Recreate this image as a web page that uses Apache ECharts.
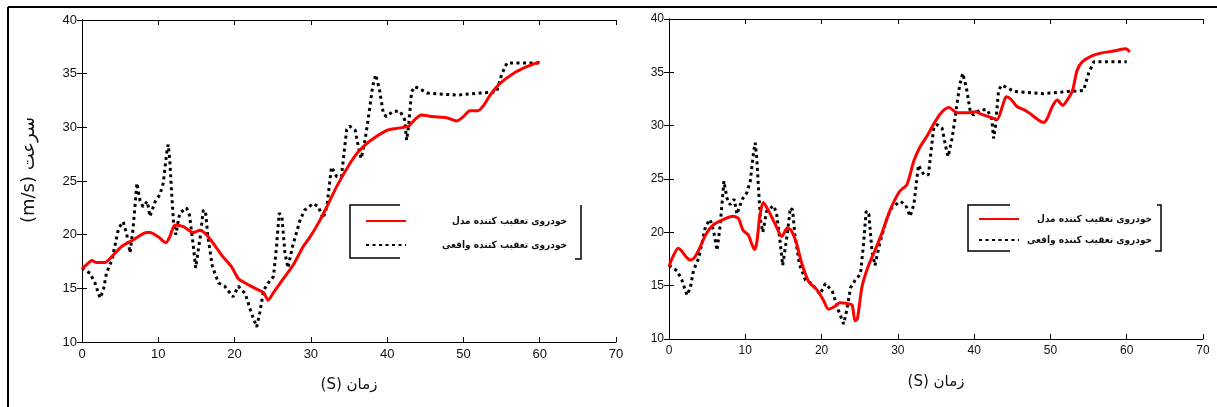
<!DOCTYPE html>
<html>
<head>
<meta charset="utf-8">
<script src="https://cdn.jsdelivr.net/npm/echarts@6/dist/echarts.min.js"></script>
<style>
  html, body { margin: 0; padding: 0; background: #fff; }
  #chart { width: 1217px; height: 407px; }
</style>
</head>
<body>
<div id="chart"></div>
<script>
// measured vehicle speed (same in both panels)
var actualTime = [0, 1.05, 1.7, 2.36, 2.8, 3.2, 3.9, 4.3, 4.8, 5.4, 5.85, 6.3, 6.7, 7.2, 7.6, 8.0, 8.56, 8.9, 9.6, 10.2, 10.65, 11.1, 11.3, 11.5, 11.75, 12.0, 12.3, 12.8, 13.7, 14.1, 14.6, 14.9, 15.5, 15.9, 16.2, 16.5, 17.1, 17.9, 18.7, 19.8, 20.5, 21.4, 22.2, 22.9, 23.3, 23.8, 24.4, 25.1, 25.5, 25.85, 26.2, 26.6, 27.0, 27.6, 28.6, 29.2, 30.3, 31.0, 31.6, 32.1, 32.7, 33.4, 34.0, 34.7, 35.1, 35.8, 36.4, 36.6, 37.1, 37.5, 38.1, 38.5, 39.0, 39.5, 39.9, 40.8, 41.7, 42.3, 42.55, 42.8, 43.2, 43.6, 44.5, 45.2, 49.1, 52.2, 54.35, 55.0, 55.7, 57.4, 60.0];
var actualSpeed = [16.9, 16.4, 15.5, 14.1, 14.8, 16.4, 17.6, 18.9, 20.6, 21.2, 20.1, 18.3, 20.6, 24.8, 23.2, 22.6, 23.1, 21.7, 23.1, 23.7, 24.8, 27.6, 28.4, 27.0, 23.9, 21.1, 20.0, 22.0, 22.5, 21.8, 18.9, 16.9, 19.8, 22.3, 22.1, 19.8, 17.0, 15.5, 15.2, 14.2, 15.2, 14.5, 12.7, 11.4, 12.7, 14.8, 15.5, 16.1, 18.9, 22.0, 21.7, 18.3, 16.9, 18.9, 21.4, 22.3, 22.9, 22.6, 21.5, 22.6, 26.3, 25.4, 25.4, 29.8, 30.1, 29.75, 27.6, 27.1, 28.8, 30.7, 33.8, 34.9, 33.5, 31.3, 31.0, 31.5, 31.5, 30.7, 28.8, 30.0, 33.3, 33.8, 33.5, 33.2, 33.0, 33.2, 33.3, 34.9, 36.0, 36.0, 36.0];

// model follower, left panel
var modelATime = [0, 0.6, 1.3, 1.9, 3.0, 3.9, 5.2, 6.7, 8.5, 8.9, 10.0, 11.0, 11.5, 12.2, 13.3, 14.6, 15.5, 16.3, 17.2, 18.3, 19.6, 20.5, 21.4, 22.7, 23.8, 24.4, 25.1, 26.4, 27.7, 29.0, 29.9, 31.0, 32.1, 33.4, 35.1, 36.2, 37.7, 39.9, 41.2, 42.8, 43.6, 44.5, 46.0, 47.8, 49.1, 50.0, 50.85, 51.9, 52.6, 53.5, 54.8, 56.5, 58.3, 60.0];
var modelASpeed = [16.8, 17.2, 17.6, 17.4, 17.4, 17.95, 18.9, 19.5, 20.2, 20.2, 19.8, 19.25, 19.8, 20.9, 20.75, 20.2, 20.4, 20.0, 19.2, 18.1, 17.0, 15.9, 15.5, 15.0, 14.6, 13.9, 14.6, 15.9, 17.2, 18.9, 19.8, 21.1, 22.6, 24.5, 26.6, 27.7, 28.7, 29.7, 29.9, 30.1, 30.7, 31.15, 31.0, 30.9, 30.6, 31.0, 31.55, 31.55, 32.0, 33.0, 34.1, 35.0, 35.65, 36.1];

// model follower, right panel
var modelBTime = [0, 0.5, 1.2, 1.6, 2.3, 2.8, 3.4, 4.0, 4.9, 5.8, 7.1, 8.4, 9.1, 9.7, 10.4, 10.8, 11.2, 11.5, 11.9, 12.35, 13.0, 13.9, 14.8, 15.5, 16.0, 16.7, 17.4, 18.3, 19.4, 20.2, 20.9, 21.6, 22.4, 23.5, 24.0, 24.4, 24.7, 25.3, 26.1, 27.0, 27.9, 29.0, 30.2, 31.2, 32.1, 32.9, 33.8, 34.7, 35.6, 36.7, 37.8, 39.1, 40.2, 40.8, 41.7, 43.0, 43.7, 44.2, 44.8, 45.6, 46.5, 47.2, 48.3, 49.1, 49.6, 50.25, 50.9, 51.6, 52.2, 52.9, 53.5, 54.2, 55.3, 56.6, 58.3, 59.9, 60.4];
var modelBSpeed = [16.8, 17.7, 18.5, 18.3, 17.65, 17.4, 17.7, 18.5, 19.9, 20.7, 21.2, 21.5, 21.3, 20.2, 19.75, 19.0, 18.4, 19.0, 21.5, 22.8, 22.1, 20.8, 19.6, 20.4, 20.2, 19.0, 17.1, 15.4, 14.6, 13.7, 12.8, 13.0, 13.4, 13.3, 13.2, 11.7, 11.9, 14.9, 16.8, 18.3, 19.9, 22.1, 23.8, 24.5, 26.7, 28.0, 29.0, 30.15, 31.15, 31.7, 31.2, 31.2, 31.3, 31.1, 30.9, 30.6, 31.8, 32.7, 32.5, 31.8, 31.5, 31.2, 30.6, 30.3, 30.7, 31.8, 32.4, 31.9, 32.4, 33.3, 35.2, 36.0, 36.5, 36.8, 37.0, 37.2, 36.9];

var nameModel = 'خودروی تعقیب کننده مدل';
var nameActual = 'خودروی تعقیب کننده واقعی';

function pairs(t, v) {
    return t.map(function (x, i) { return [x, v[i]]; });
}

var chart = echarts.init(document.getElementById('chart'));

var tickFont = { color: '#111', fontFamily: 'Liberation Sans, Arial, sans-serif' };

function xAxes(gridIndex, size) {
    return [{
        gridIndex: gridIndex, type: 'value', min: 0, max: 70, interval: 10,
        name: '(S) زمان', nameLocation: 'middle', nameGap: 36,
        nameTextStyle: { fontSize: 15, color: '#111', fontFamily: 'DejaVu Sans' },
        axisLine: { lineStyle: { color: '#000', width: 1 } },
        axisTick: { inside: true, length: 5, lineStyle: { color: '#000' } },
        axisLabel: Object.assign({ fontSize: size, margin: 6 }, tickFont),
        splitLine: { show: false }
    }, {
        gridIndex: gridIndex, type: 'value', position: 'top', min: 0, max: 70, interval: 10,
        axisLine: { lineStyle: { color: '#000', width: 1 } },
        axisTick: { inside: true, length: 5, lineStyle: { color: '#000' } },
        axisLabel: { show: false }, splitLine: { show: false }
    }];
}

function yAxes(gridIndex, size, name) {
    return [{
        gridIndex: gridIndex, type: 'value', min: 10, max: 40, interval: 5,
        name: name, nameLocation: 'middle', nameGap: 44,
        nameTextStyle: { fontSize: 18, color: '#111', fontFamily: 'DejaVu Sans', padding: [0, 0, 0, 22] },
        axisLine: { lineStyle: { color: '#000', width: 1 } },
        axisTick: { inside: true, length: 5, lineStyle: { color: '#000' } },
        axisLabel: Object.assign({ fontSize: size, margin: 5 }, tickFont),
        splitLine: { show: false }
    }, {
        gridIndex: gridIndex, type: 'value', position: 'right', min: 10, max: 40, interval: 5,
        axisLine: { lineStyle: { color: '#000', width: 1 } },
        axisTick: { inside: true, length: 5, lineStyle: { color: '#000' } },
        axisLabel: { show: false }, splitLine: { show: false }
    }];
}

function modelSeries(idx, data) {
    return {
        name: nameModel, type: 'line', xAxisIndex: idx * 2, yAxisIndex: idx * 2,
        data: data, symbol: 'none', smooth: 0.25,
        lineStyle: { color: '#ff0000', width: 3 }, itemStyle: { color: '#ff0000' },
        z: 3
    };
}

function actualSeries(idx) {
    return {
        name: nameActual, type: 'line', xAxisIndex: idx * 2, yAxisIndex: idx * 2,
        data: pairs(actualTime, actualSpeed), symbol: 'none',
        lineStyle: { color: '#000', width: 3, type: [3, 3.5], cap: 'butt' }, itemStyle: { color: '#000' },
        z: 2
    };
}

function legendAt(left, top, textWidth, gap) {
    return {
        left: left, top: top, orient: 'vertical', itemWidth: 40, itemHeight: 10, itemGap: gap,
        data: [nameModel, nameActual], selectedMode: false,
        itemStyle: { opacity: 0 },
        formatter: function (n) { return '{t|' + n + '}'; },
        textStyle: {
            rich: { t: { width: textWidth, align: 'right', fontSize: 10, fontWeight: 'bold', color: '#111', fontFamily: 'DejaVu Sans Condensed' } }
        }
    };
}

var option = {
    animation: false,
    grid: [
        { left: 82, right: 601, top: 20, bottom: 65 },
        { left: 669, right: 14, top: 19, bottom: 68 }
    ],
    xAxis: xAxes(0, 13).concat(xAxes(1, 12)),
    yAxis: yAxes(0, 13, '(m/s) سرعت').concat(yAxes(1, 12, '')),
    legend: [legendAt(360, 211, 156, 14), legendAt(973, 209, 128, 11)],
    series: [
        actualSeries(0), modelSeries(0, pairs(modelATime, modelASpeed)),
        actualSeries(1), modelSeries(1, pairs(modelBTime, modelBSpeed))
    ],
    graphic: [
        // outer frame pieces
        { type: 'line', shape: { x1: 8, y1: 7, x2: 1217, y2: 7 }, style: { stroke: '#000', lineWidth: 2 } },
        { type: 'line', shape: { x1: 8, y1: 7, x2: 8, y2: 407 }, style: { stroke: '#000', lineWidth: 2 } },
        // legend boxes (open on the right, bracket on the far side)
        { type: 'polyline', shape: { points: [[400, 205], [350, 205], [350, 258], [400, 258]] }, style: { stroke: '#000', lineWidth: 1.5, fill: null } },
        { type: 'polyline', shape: { points: [[581, 205], [581, 259], [575, 259]] }, style: { stroke: '#000', lineWidth: 1.5, fill: null } },
        { type: 'polyline', shape: { points: [[1010, 205], [968, 205], [968, 251], [1010, 251]] }, style: { stroke: '#000', lineWidth: 1.5, fill: null } },
        { type: 'polyline', shape: { points: [[1157, 205], [1161, 205], [1161, 251], [1155, 251]] }, style: { stroke: '#000', lineWidth: 1.5, fill: null } }
    ]
};

chart.setOption(option);
</script>
</body>
</html>
